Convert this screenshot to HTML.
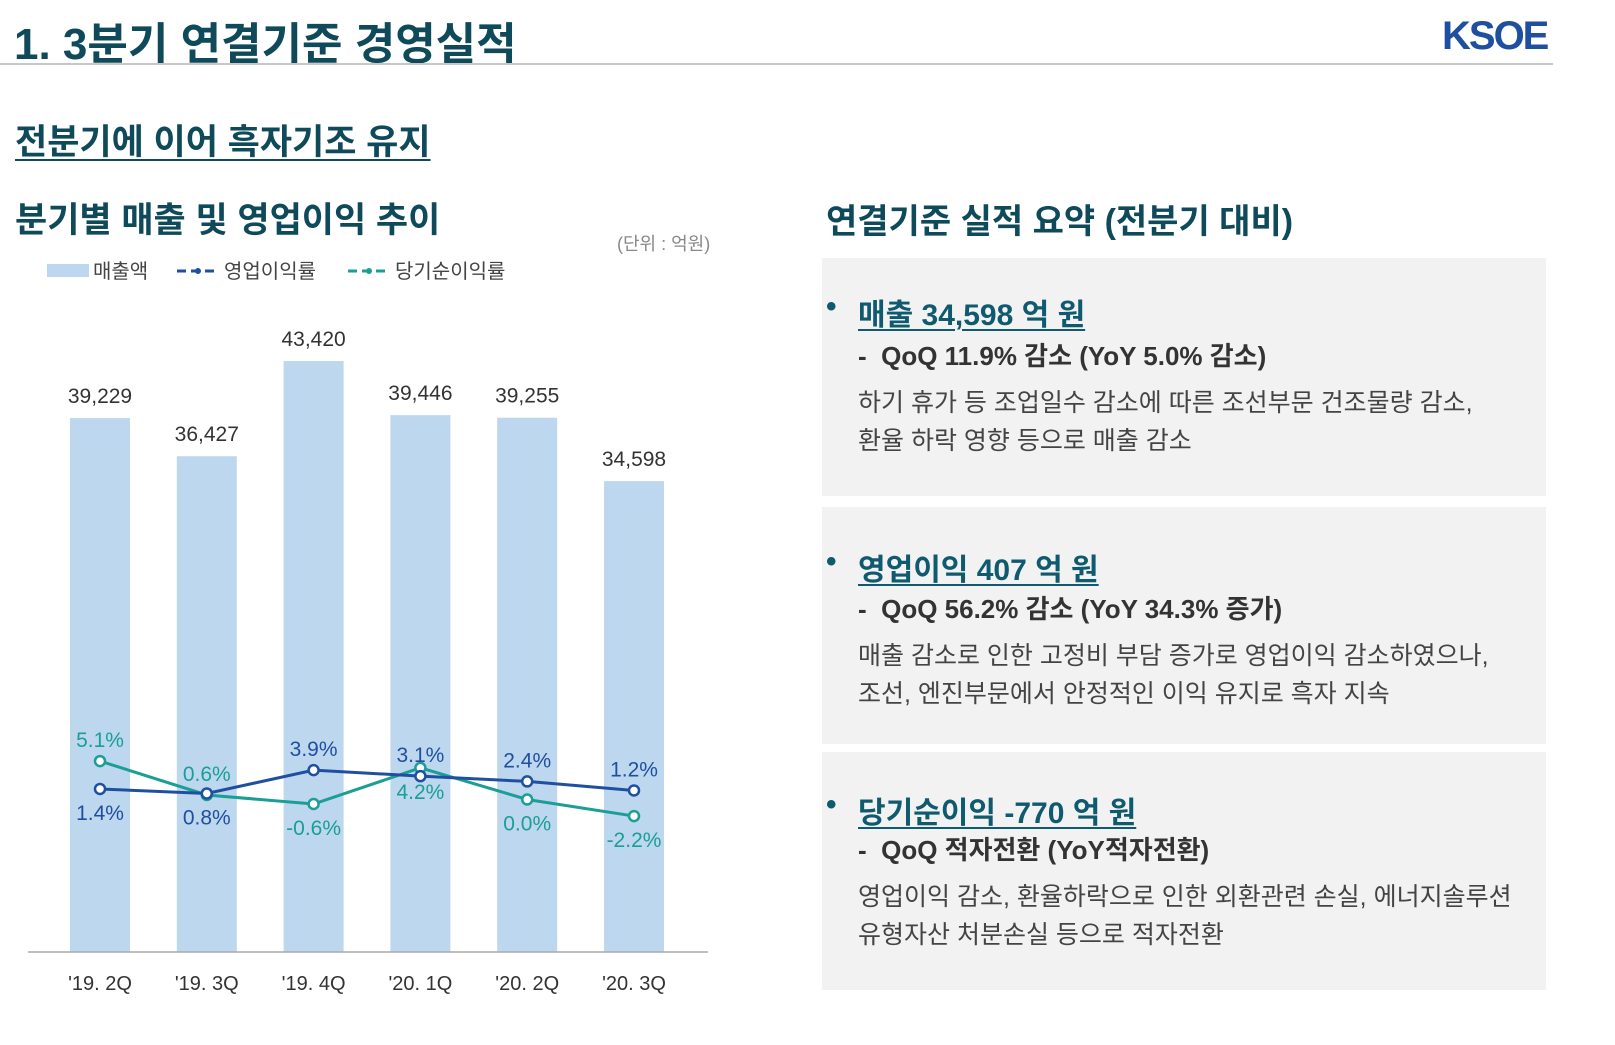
<!DOCTYPE html>
<html><head><meta charset="utf-8">
<style>
body{margin:0;width:1615px;height:1045px;background:#fff;position:relative;overflow:hidden;font-family:"Liberation Sans","Noto Sans CJK KR",sans-serif;}
.a{position:absolute;white-space:nowrap;}
.h{color:#0f4a5a;font-weight:bold;}
.box{position:absolute;left:822px;width:724px;background:#f2f2f2;}
.bt{position:absolute;left:36px;font-size:30px;color:#0f5a6e;font-weight:bold;text-decoration:underline;text-decoration-thickness:2px;text-underline-offset:4px;}
.bt:before{content:"•";position:absolute;left:-32px;color:#0f5a6e;}
.bs{position:absolute;left:36px;font-size:26px;color:#333;font-weight:bold;}
.bb{position:absolute;left:36px;font-size:25px;color:#444;line-height:38px;white-space:nowrap;}
</style></head><body>
<div class="a h" style="left:14px;top:8px;font-size:44px;">1. 3분기 연결기준 경영실적</div>
<div class="a" style="left:1442px;top:14px;font-size:40px;font-weight:bold;color:#1f4fa0;letter-spacing:-2px;">KSOE</div>
<div class="a" style="left:0;top:63px;width:1553px;height:2px;background:#c8c8c8;"></div>
<div class="a h" style="left:15px;top:114px;font-size:35px;text-decoration:underline;text-decoration-thickness:2px;text-underline-offset:5px;">전분기에 이어 흑자기조 유지</div>
<div class="a h" style="left:15px;top:192px;font-size:35px;">분기별 매출 및 영업이익 추이</div>
<div class="a" style="left:617px;top:230px;font-size:18px;color:#888;">(단위 : 억원)</div>
<div class="a h" style="left:826px;top:194px;font-size:34px;">연결기준 실적 요약 (전분기 대비)</div>

<div class="box" style="top:258px;height:238px;">
<div class="bt" style="top:32px;">매출 34,598 억 원</div>
<div class="bs" style="top:78px;">-&nbsp; QoQ 11.9% 감소 (YoY 5.0% 감소)</div>
<div class="bb" style="top:126px;">하기 휴가 등 조업일수 감소에 따른 조선부문 건조물량 감소,<br>환율 하락 영향 등으로 매출 감소</div>
</div>
<div class="box" style="top:507px;height:237px;">
<div class="bt" style="top:38px;">영업이익 407 억 원</div>
<div class="bs" style="top:82px;">-&nbsp; QoQ 56.2% 감소 (YoY 34.3% 증가)</div>
<div class="bb" style="top:130px;">매출 감소로 인한 고정비 부담 증가로 영업이익 감소하였으나,<br>조선, 엔진부문에서 안정적인 이익 유지로 흑자 지속</div>
</div>
<div class="box" style="top:752px;height:238px;">
<div class="bt" style="top:36px;">당기순이익 -770 억 원</div>
<div class="bs" style="top:78px;">-&nbsp; QoQ 적자전환 (YoY적자전환)</div>
<div class="bb" style="top:126px;">영업이익 감소, 환율하락으로 인한 외환관련 손실, 에너지솔루션<br>유형자산 처분손실 등으로 적자전환</div>
</div>

<svg id="chart" class="a" style="left:0;top:0" width="820" height="1045" font-family="Liberation Sans, Noto Sans CJK KR, sans-serif">
<g>
<rect x="47" y="264" width="42" height="13" fill="#bdd7ee"/>
<text x="93" y="278" font-size="20" fill="#444">매출액</text>
<line x1="177" y1="271" x2="219" y2="271" stroke="#1f4fa0" stroke-width="3" stroke-dasharray="9,5"/>
<circle cx="198" cy="271" r="3" fill="#1f4fa0"/>
<text x="224" y="278" font-size="20" fill="#444">영업이익률</text>
<line x1="348" y1="271" x2="390" y2="271" stroke="#1a9e96" stroke-width="3" stroke-dasharray="9,5"/>
<circle cx="369" cy="271" r="3" fill="#1a9e96"/>
<text x="395" y="278" font-size="20" fill="#444">당기순이익률</text>
</g>
</svg>
<script>
const categories=["'19. 2Q","'19. 3Q","'19. 4Q","'20. 1Q","'20. 2Q","'20. 3Q"];
const revenue=[39229,36427,43420,39446,39255,34598];
const opMargin=[1.4,0.8,3.9,3.1,2.4,1.2];
const netMargin=[5.1,0.6,-0.6,4.2,0.0,-2.2];
const opLabelPos=["below","below","above","above","above","above"];
const netLabelPos=["above","above","below","below","below","below"];
const svg=document.getElementById('chart');
const NS='http://www.w3.org/2000/svg';
const base=952;
const xPos=i=>100+i*106.8;
const yBar=v=>base-v*0.01361;
const yPct=v=>799.5-7.53*v;
function mk(t,a,p){const e=document.createElementNS(NS,t);for(const k in a)e.setAttribute(k,a[k]);(p||svg).appendChild(e);return e;}
revenue.forEach((v,i)=>{
 const r=mk('rect',{x:xPos(i)-30,y:yBar(v),width:60,height:base-yBar(v),fill:'#bdd7ee'});
 
 
 const t=mk('text',{x:xPos(i),y:yBar(v)-15,'font-size':21,fill:'#333','text-anchor':'middle'});
 t.textContent=v.toLocaleString('en-US');
 
 
 const c=mk('text',{x:xPos(i),y:990,'font-size':20,fill:'#333','text-anchor':'middle'});
 c.textContent=categories[i];
 
 
});
const ax=mk('line',{x1:28,y1:base,x2:708,y2:base,stroke:'#aaa','stroke-width':1.5});


function series(vals,color,pos,name){
 const pl=mk('polyline',{points:vals.map((v,i)=>xPos(i)+','+yPct(v)).join(' '),fill:'none',stroke:color,'stroke-width':3});
 
 
 vals.forEach((v,i)=>{
  const c=mk('circle',{cx:xPos(i),cy:yPct(v),r:5,fill:'#fff',stroke:color,'stroke-width':2.5});
  
  
  const t=mk('text',{x:xPos(i),y:pos[i]==='above'?yPct(v)-14:yPct(v)+31,'font-size':21,fill:color,'text-anchor':'middle'});
  t.textContent=v.toFixed(1)+'%';
  
  
 });
}
series(netMargin,'#1a9e96',netLabelPos,'net-margin');
series(opMargin,'#1f4fa0',opLabelPos,'op-margin');
</script>
</body></html>
